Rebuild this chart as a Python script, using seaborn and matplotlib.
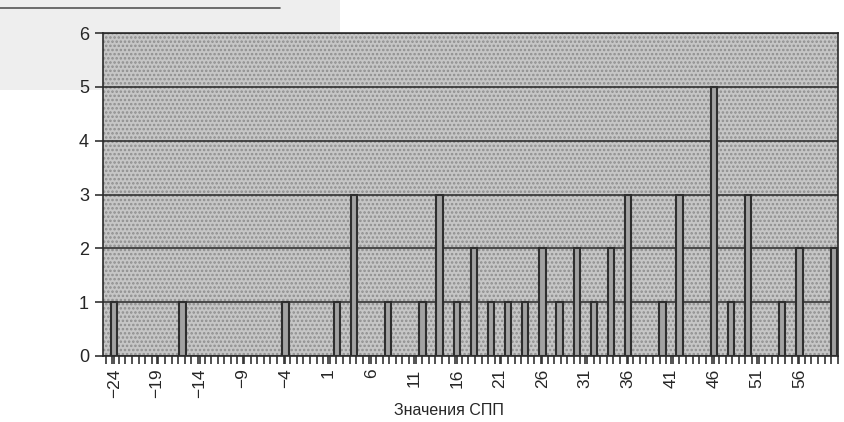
import numpy as np
import pandas as pd
import seaborn as sns
import matplotlib
matplotlib.use('Agg')
import matplotlib.pyplot as plt
from matplotlib.patches import Rectangle
from matplotlib.lines import Line2D

# values of SPP and how many times each one occurs
spp_values = [-24, -16, -4, 2, 4, 8, 12, 14, 16, 18, 20, 22, 24, 26, 28, 30,
              32, 34, 36, 40, 42, 46, 48, 50, 54, 56, 60]
counts = [1, 1, 1, 1, 3, 1, 1, 3, 1, 2, 1, 1, 1, 2, 1, 2,
          1, 2, 3, 1, 3, 5, 1, 3, 1, 2, 2]
x_tick_labels = [-24, -19, -14, -9, -4, 1, 6, 11, 16, 21, 26, 31, 36, 41, 46, 51, 56]
y_ticks = [0, 1, 2, 3, 4, 5, 6]

df = pd.DataFrame({'spp': spp_values, 'n': counts})

sns.set_style('white')
plt.rcParams['font.family'] = ['Liberation Sans', 'DejaVu Sans']
plt.rcParams['hatch.linewidth'] = 1.2
plt.rcParams['hatch.color'] = '#8e8e8e'

fig = plt.figure(figsize=(8.45, 4.22), dpi=100)
fig.patch.set_facecolor('white')

# light grey scan patch in the upper left corner, behind the plot
fig.patches.append(Rectangle((0, 1 - 90 / 422), 340 / 845, 90 / 422,
                             transform=fig.transFigure, facecolor='#eeeeee',
                             edgecolor='none', zorder=-5))
fig.lines.append(Line2D([0, 280 / 845], [1 - 8 / 422, 1 - 8 / 422],
                        transform=fig.transFigure, color='#555555', lw=1.2,
                        zorder=-4))

ax = fig.add_axes([103 / 845, 66 / 422, 735 / 845, 323 / 422])
ax.set_facecolor('#c6c6c6')
ax.add_patch(Rectangle((0, 0), 1, 1, transform=ax.transAxes, facecolor='none',
                       hatch='....', edgecolor='#8e8e8e', lw=0, zorder=0))

sns.barplot(data=df, x='spp', y='n', native_scale=True, width=0.37,
            color='#a2a2a2', edgecolor='#2e2e2e', linewidth=1.5,
            saturation=1, errorbar=None, ax=ax, zorder=3)

ax.set_xlim(-25.3, 60.5)
ax.set_ylim(0, 6)
ax.set_yticks(y_ticks)
ax.set_xticks(x_tick_labels)
ax.set_xticklabels([str(v).replace('-', '\u2212') for v in x_tick_labels],
                   rotation=90, fontsize=12.5)
ax.set_xticks(np.arange(-25.0, 60.6, 0.77), minor=True)
ax.tick_params(axis='y', labelsize=13, length=6, width=1.2, color='#333333',
               left=True, pad=4)
ax.tick_params(axis='x', which='major', length=6, width=1.2, color='#333333',
               bottom=True, pad=3)
ax.tick_params(axis='x', which='minor', length=6, width=1.2, color='#333333',
               bottom=True)

ax.set_axisbelow(True)
ax.yaxis.grid(True, color='#262626', linewidth=1.1)
ax.xaxis.grid(False)
for side in ['left', 'bottom', 'top', 'right']:
    ax.spines[side].set_color('#2a2a2a')
    ax.spines[side].set_linewidth(1.2)

ax.set_ylabel('')
ax.set_xlabel('Значения СПП', fontsize=11.5)
ax.xaxis.set_label_coords(0.47, -0.145)

plt.savefig('out.png', dpi=100)
